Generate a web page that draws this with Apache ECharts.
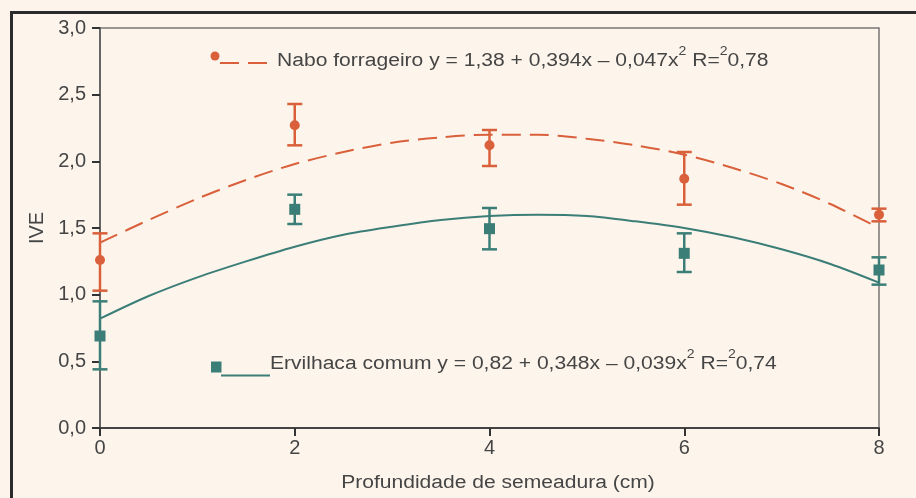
<!DOCTYPE html>
<html>
<head>
<meta charset="utf-8">
<script src="https://cdn.jsdelivr.net/npm/echarts@6/dist/echarts.min.js"></script>
<style>
html,body{margin:0;padding:0;background:#fdf5ec;}
#chart{width:916px;height:498px;}
</style>
</head>
<body>
<div id="chart"></div>
<script>
// Measured points (depth in cm)
const depths = [0, 2, 4, 6, 8];
const naboMean = [1.26, 2.27, 2.12, 1.87, 1.60];
const naboLow  = [1.03, 2.12, 1.965, 1.675, 1.55];
const naboHigh = [1.46, 2.43, 2.235, 2.07, 1.645];
const ervMean  = [0.69, 1.64, 1.495, 1.31, 1.185];
const ervLow   = [0.44, 1.53, 1.34, 1.17, 1.075];
const ervHigh  = [0.95, 1.75, 1.65, 1.46, 1.28];
// Fitted curves
const curveX    = [0, 0.5, 1, 1.5, 2, 2.5, 3, 3.5, 4, 4.5, 5, 5.5, 6, 6.5, 7, 7.5, 8];
const naboCurve = [1.39, 1.56, 1.72, 1.86, 1.98, 2.07, 2.14, 2.18, 2.20, 2.20, 2.17, 2.12, 2.05, 1.95, 1.83, 1.68, 1.50];
const ervCurve  = [0.82, 0.99, 1.13, 1.25, 1.36, 1.45, 1.51, 1.56, 1.59, 1.60, 1.59, 1.55, 1.50, 1.43, 1.34, 1.23, 1.09];
// Labels
const naboLabel = ['Nabo forrageiro y = 1,38 + 0,394x \u2013 0,047x', '2', ' R=', '2', '0,78'];
const ervLabel  = ['Ervilhaca comum y = 0,82 + 0,348x \u2013 0,039x', '2', ' R=', '2', '0,74'];
const yName = 'IVE';
const xName = 'Profundidade de semeadura (cm)';

const ORANGE = '#d9603b';
const TEAL = '#3b7e77';
const TEXT = '#454545';
const FONT = '"Liberation Sans", Arial, sans-serif';

function pairs(xs, ys) { return xs.map((x, i) => [x, ys[i]]); }
function errData(low, high) { return depths.map((x, i) => [x, low[i], high[i]]); }
function errRender(color) {
  return function (params, api) {
    const x = api.value(0);
    const lo = api.coord([x, api.value(1)]);
    const hi = api.coord([x, api.value(2)]);
    const hw = 7.5;
    const st = { stroke: color, lineWidth: 2.5 };
    return {
      type: 'group',
      children: [
        { type: 'line', shape: { x1: lo[0], y1: lo[1], x2: hi[0], y2: hi[1] }, style: st },
        { type: 'line', shape: { x1: lo[0] - hw, y1: lo[1], x2: lo[0] + hw, y2: lo[1] }, style: st },
        { type: 'line', shape: { x1: hi[0] - hw, y1: hi[1], x2: hi[0] + hw, y2: hi[1] }, style: st }
      ]
    };
  };
}
function richLabel(parts) {
  return '{a|' + parts[0] + '}{s|' + parts[1] + '}{a|' + parts[2] + '}{s|' + parts[3] + '}{a|' + parts[4] + '}';
}
const richStyles = {
  a: { fontSize: 18, fontFamily: FONT, fill: TEXT, lineHeight: 24, verticalAlign: 'bottom' },
  s: { fontSize: 12, fontFamily: FONT, fill: TEXT, lineHeight: 24, verticalAlign: 'top' }
};

const chart = echarts.init(document.getElementById('chart'));
chart.setOption({
  backgroundColor: '#fdf5ec',
  animation: false,
  grid: { left: 100, right: 37, top: 28, bottom: 70, show: true, borderColor: '#7a7474', borderWidth: 1.5, backgroundColor: 'transparent' },
  xAxis: {
    type: 'value', min: 0, max: 8, interval: 2,
    axisLine: { show: true, onZero: false, lineStyle: { color: '#444', width: 2 } },
    axisTick: { show: true, length: 8, lineStyle: { color: '#333', width: 2 } },
    axisLabel: { margin: 10, fontSize: 20, fontFamily: FONT, color: TEXT },
    splitLine: { show: false }
  },
  yAxis: {
    type: 'value', min: 0, max: 3, interval: 0.5,
    name: yName, nameLocation: 'middle', nameGap: 51, nameRotate: 90,
    nameTextStyle: { fontSize: 20, fontFamily: FONT, color: TEXT },
    axisLine: { show: true, lineStyle: { color: '#666', width: 2 } },
    axisTick: { show: true, length: 8, lineStyle: { color: '#333', width: 2 } },
    axisLabel: { margin: 14, fontSize: 20, fontFamily: FONT, color: TEXT,
      formatter: v => v.toFixed(1).replace('.', ',') },
    splitLine: { show: false }
  },
  graphic: [
    { type: 'rect', silent: true, z: 100, shape: { x: 11.5, y: 12.5, width: 2000, height: 2000 },
      style: { fill: 'none', stroke: '#2b2b2b', lineWidth: 3 } },
    // legend Nabo
    { type: 'circle', z: 50, shape: { cx: 215, cy: 56, r: 4.5 }, style: { fill: ORANGE } },
    { type: 'line', z: 50, shape: { x1: 220, y1: 63, x2: 267, y2: 63 },
      style: { stroke: ORANGE, lineWidth: 2, lineDash: [19, 9] } },
    { type: 'text', z: 50, x: 277, y: 58, scaleX: 1.17,
      style: { text: richLabel(naboLabel), rich: richStyles, verticalAlign: 'middle', align: 'left' } },
    // legend Ervilhaca
    { type: 'rect', z: 50, shape: { x: 211, y: 361.5, width: 10.5, height: 11 }, style: { fill: TEAL } },
    { type: 'line', z: 50, shape: { x1: 221, y1: 375.5, x2: 270, y2: 375.5 },
      style: { stroke: TEAL, lineWidth: 2 } },
    { type: 'text', z: 50, x: 270, y: 361, scaleX: 1.17,
      style: { text: richLabel(ervLabel), rich: richStyles, verticalAlign: 'middle', align: 'left' } },
    // x axis title
    { type: 'text', z: 50, x: 498, y: 483, scaleX: 1.17,
      style: { text: xName, fontSize: 18, fontFamily: FONT, fill: TEXT, align: 'center', verticalAlign: 'middle' } }
  ],
  series: [
    { type: 'line', data: pairs(curveX, naboCurve), smooth: 0.3, symbol: 'none',
      lineStyle: { color: ORANGE, width: 2, type: [19, 9] }, z: 2 },
    { type: 'line', data: pairs(curveX, ervCurve), smooth: 0.3, symbol: 'none',
      lineStyle: { color: TEAL, width: 2 }, z: 2 },
    { type: 'custom', data: errData(naboLow, naboHigh), renderItem: errRender(ORANGE), z: 3 },
    { type: 'custom', data: errData(ervLow, ervHigh), renderItem: errRender(TEAL), z: 3 },
    { type: 'scatter', data: pairs(depths, naboMean), symbol: 'circle', symbolSize: 10,
      itemStyle: { color: ORANGE, opacity: 1 }, z: 4 },
    { type: 'scatter', data: pairs(depths, ervMean), symbol: 'rect', symbolSize: 11,
      itemStyle: { color: TEAL, opacity: 1 }, z: 4 }
  ]
});
</script>
</body>
</html>
